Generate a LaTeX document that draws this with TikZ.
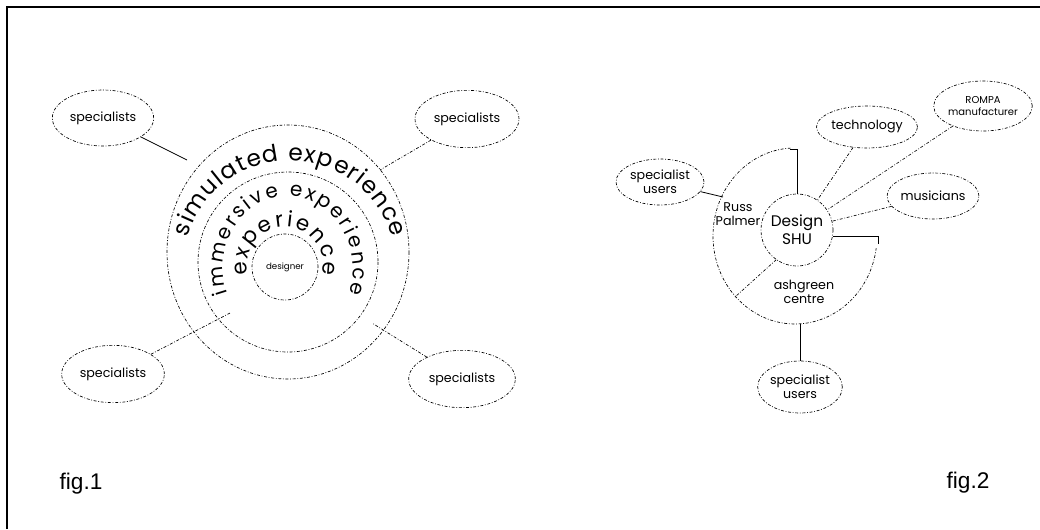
\documentclass[tikz,border=0pt]{standalone}
\usepackage{fontspec}
\setmainfont{Liberation Sans}
\newfontfamily\sketchfont{Poppins}
\usetikzlibrary{shapes.geometric,decorations.text}

\tikzset{
  dashline/.style={dash pattern=on 2.2pt off 1.3pt on 0.6pt off 1.3pt, line width=0.5pt},
  solidline/.style={line width=0.6pt},
  bubble/.style={draw, dashline, ellipse, inner sep=0pt, align=center, font=\sketchfont\fontsize{9.5}{10.5}\selectfont},
  note/.style={align=center, inner sep=0pt, font=\sketchfont\fontsize{9.5}{11}\selectfont},
  ringtext/.style n args={2}{decorate, decoration={text along path, text={|\sketchfont\fontsize{#1}{#1}\selectfont|#2}, text align={fit to path}}},
}

\begin{document}
\begin{tikzpicture}[x=0.75pt,y=0.75pt,yscale=-1,xscale=1]
\useasboundingbox (0,0) rectangle (1040,529);

%Frame
\draw [line width=1.2pt] (7,529) -- (7,7) -- (1040,7) ;

%Shape: rings of fig.1
\draw [dashline] (288,252) ellipse [x radius=121, y radius=127] ;
\draw [dashline] (288,262) circle [radius=90] ;
\node [circle, draw, dashline, minimum size=49.5pt, inner sep=0pt, font=\sketchfont\fontsize{6.5}{7}\selectfont] (dsgnr) at (285,267) {designer};

%Text along the rings
\path [ringtext={17.5pt}{simulated experience}] ([shift={(194:105 and 101)}]290,262) arc [start angle=194, end angle=346, x radius=105, y radius=101] ;
\path [ringtext={15pt}{immersive experience}] ([shift={(159:65 and 72)}]288,268) arc [start angle=159, end angle=381, x radius=65, y radius=72] ;
\path [ringtext={16pt}{experience}] ([shift={(165:38)}]285,265) arc [start angle=165, end angle=375, radius=38] ;

%Shape: specialists of fig.1
\node [bubble, minimum width=76pt, minimum height=42pt] (spTL) at (103,118) {specialists};
\node [bubble, minimum width=78pt, minimum height=43pt] (spTR) at (467,119) {specialists};
\node [bubble, minimum width=77pt, minimum height=43pt] (spBL) at (113,374) {specialists};
\node [bubble, minimum width=80pt, minimum height=43pt] (spBR) at (462,379) {specialists};

\coordinate (tlEnd) at (187,160);
\coordinate (trEnd) at (380,170);
\coordinate (blEnd) at (230,313);
\coordinate (brEnd) at (372,323);
\draw [solidline] (spTL) -- (tlEnd) ;
\draw [dashline] (spTR) -- (trEnd) ;
\draw [dashline] (spBL) -- (blEnd) ;
\draw [dashline] (spBR) -- (brEnd) ;

%Shape: fig.2
\node [circle, draw, dashline, minimum size=54pt, inner sep=0pt, align=center, font=\sketchfont\fontsize{11.5}{13.5}\selectfont] (dsn) at (797,230) {Design\\SHU};
\draw [dashline] (790.7,148.1) arc [start angle=267, end angle=8, x radius=82, y radius=88] ;

\node [note] (russ) at (738,214) {Russ\\Palmer};
\node [note] (ash) at (804,292) {ashgreen\\centre};

\node [bubble, minimum width=66pt, minimum height=34.5pt] (usrL) at (660,182) {specialist\\users};
\node [bubble, minimum width=58.5pt, minimum height=31.5pt] (tech) at (867,127) {technology};
\node [bubble, minimum width=57pt, minimum height=37.5pt, font=\sketchfont\fontsize{7.5}{9}\selectfont] (rompa) at (983,106) {ROMPA\\manufacturer};
\node [bubble, minimum width=57pt, minimum height=34.5pt] (mus) at (933,196) {musicians};
\node [bubble, minimum width=60pt, minimum height=39pt] (usrB) at (800,387) {specialist\\users};

\coordinate (topCap) at (790,149);
\coordinate (rightCap) at (878,244);
\coordinate (leftJoin) at (723,197);
\coordinate (lowJoin) at (735,297);
\coordinate (baseJoin) at (800,324);

\draw [solidline] (topCap) -| (dsn.north) ;
\draw [solidline] (dsn.-10) -| (rightCap) ;
\draw [solidline] (usrL) -- (leftJoin) ;
\draw [dashline] (dsn.235) -- (lowJoin) ;
\draw [solidline] (baseJoin) -- (usrB) ;
\draw [dashline] (tech) -- (dsn) ;
\draw [dashline] (rompa) -- (dsn) ;
\draw [dashline] (mus) -- (dsn) ;

% Text Node
\node [font=\fontsize{17}{17}\selectfont] (fig1) at (81,484) {fig.1};
% Text Node
\node [font=\fontsize{17}{17}\selectfont] (fig2) at (968,483) {fig.2};

\end{tikzpicture}
\end{document}
